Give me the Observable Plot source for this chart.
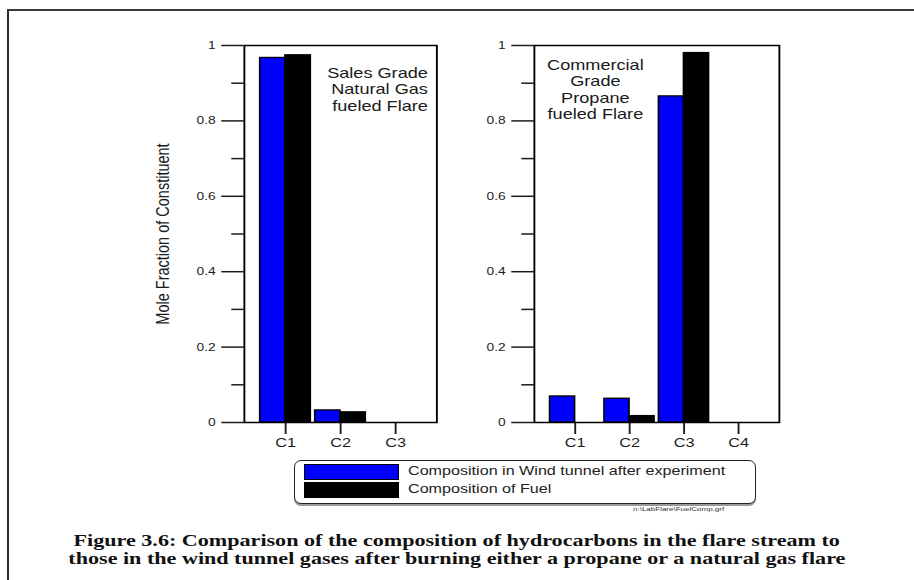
<!DOCTYPE html>
<html>
<head>
<meta charset="utf-8">
<script src="https://cdn.jsdelivr.net/npm/d3@7"></script>
<script src="https://cdn.jsdelivr.net/npm/@observablehq/plot@0.6"></script>
<style>
  body { margin: 0; background: #fff; }
  #page { position: relative; width: 914px; height: 580px; overflow: hidden; background: #fff;
          font-family: "Liberation Sans", Arial, sans-serif; color: #111; }
  .sheet { position: absolute; left: 7px; top: 9px; width: 920px; height: 590px;
           border-top: 2px solid #3a3a3a; border-left: 2px solid #2a2a2a; }
  .panel { position: absolute; top: 30px; }
  .panel svg { transform-origin: 0 0; transform: scaleX(1.25); overflow: visible; }
  .legend { position: absolute; left: 294px; top: 460px; width: 460px; height: 42px;
            border: 1.5px solid #222; border-radius: 7px; box-shadow: 0 2px 0 #9a9a9a; background: #fff; }
  .legend .item { position: absolute; left: 9px; height: 17px; }
  .legend .swatch { position: absolute; left: 0; top: 0; width: 93px; height: 14px; border: 1.2px solid #000; }
  .legend .label { position: absolute; left: 104px; top: -1px; font-size: 13px; line-height: 16px;
                   white-space: nowrap; transform-origin: 0 50%; transform: scaleX(1.24); color: #222; }
  .filetag { position: absolute; left: 633px; top: 506px; font-size: 5px; color: #333; white-space: nowrap;
             transform-origin: 0 0; transform: scaleX(1.6); }
  .caption { position: absolute; left: 0; top: 532px; width: 914px; text-align: center;
             font-family: "Liberation Serif", "Times New Roman", serif; font-weight: bold;
             font-size: 17px; line-height: 18px; color: #111; }
  .caption div { display: inline-block; transform: scaleX(1.30); transform-origin: 50% 50%; white-space: nowrap; }
</style>
</head>
<body>
<div id="page">
  <div class="sheet"></div>
  <div class="panel" id="panelNG" style="left:150px"></div>
  <div class="panel" id="panelPropane" style="left:460px"></div>
  <div class="legend" id="legend"></div>
  <div class="filetag">n:\LabFlare\FuelComp.grf</div>
  <div class="caption" id="caption"></div>
</div>
<script>
// Hydrocarbon constituents shown in each panel
const categoriesNG = ["C1", "C2", "C3"];
const categoriesPropane = ["C1", "C2", "C3", "C4"];

// Series and their fills
const series = ["Composition in Wind tunnel after experiment", "Composition of Fuel"];
const seriesColors = ["#0000ff", "#000000"];

// Mole fractions, natural gas fueled flare
const windTunnelNG = [0.967, 0.032, 0];
const fuelNG = [0.974, 0.027, 0];

// Mole fractions, propane fueled flare
const windTunnelPropane = [0.069, 0.063, 0.865, 0];
const fuelPropane = [0, 0.017, 0.98, 0];

// Axis ticks and labels
const yTicks = [0, 0.2, 0.4, 0.6, 0.8, 1];
const yMinorTicks = [0.1, 0.3, 0.5, 0.7, 0.9];
const yLabel = "Mole Fraction of Constituent";
const noteNG = "Sales Grade\nNatural Gas\nfueled Flare";
const notePropane = "Commercial\nGrade\nPropane\nfueled Flare";
const captionLines = [
  "Figure 3.6: Comparison of the composition of hydrocarbons in the flare stream to",
  "those in the wind tunnel gases after burning either a propane or a natural gas flare"
];

const PAD_INNER = 0.08, PAD_OUTER = 0.29;

function compositionPanel({cats, wind, fuel, width, marginLeft, note, noteOptions, showYLabel}) {
  const marginRight = 7;
  const rows = cats.flatMap((c, i) => [
    {cat: c, series: series[0], value: wind[i]},
    {cat: c, series: series[1], value: fuel[i]}
  ]);
  // half of the band width, so the two series sit side by side in each band
  const frameW = width - marginLeft - marginRight;
  const step = frameW / (cats.length - PAD_INNER + 2 * PAD_OUTER);
  const half = step * (1 - PAD_INNER) / 2;

  return Plot.plot({
    width, height: 427,
    marginLeft, marginRight, marginTop: 15, marginBottom: 35,
    style: {fontFamily: "'Liberation Sans', Arial, sans-serif", color: "#1c1c1c", background: "transparent"},
    x: {type: "band", domain: cats, paddingInner: PAD_INNER, paddingOuter: PAD_OUTER, round: false, axis: null},
    y: {domain: [0, 1], axis: null},
    color: {domain: series, range: seriesColors},
    marks: [
      Plot.barY(rows.filter(d => d.series === series[0] && d.value > 0),
        {x: "cat", y: "value", fill: "series", stroke: "#000", strokeWidth: 1.3, insetRight: half}),
      Plot.barY(rows.filter(d => d.series === series[1] && d.value > 0),
        {x: "cat", y: "value", fill: "series", stroke: "#000", strokeWidth: 1.3, insetLeft: half}),
      Plot.axisY({ticks: yTicks, tickSize: 18, tickPadding: 5, tickFormat: d => String(d),
        fontSize: 11, strokeWidth: 1.5, label: null}),
      Plot.axisY({ticks: yMinorTicks, tickSize: 10, tickFormat: () => "", strokeWidth: 1.5, label: null}),
      Plot.axisX({tickSize: 12, tickPadding: 3, fontSize: 13, strokeWidth: 1.5, label: null}),
      Plot.frame({stroke: "#000", strokeWidth: 1.5}),
      Plot.text([note], {text: d => d, fontSize: 14.5, lineHeight: 1.12, fill: "#1a1a1a", ...noteOptions}),
      showYLabel ? Plot.text([yLabel], {text: d => d, frameAnchor: "left", textAnchor: "middle",
        rotate: -90, dx: -64.6, fontSize: 14.5, fill: "#1a1a1a"}) : null
    ]
  });
}

document.getElementById("panelNG").append(compositionPanel({
  cats: categoriesNG, wind: windTunnelNG, fuel: fuelNG,
  width: 236, marginLeft: 75, note: noteNG, showYLabel: true,
  noteOptions: {frameAnchor: "top-right", textAnchor: "end", lineAnchor: "top", dx: -7.2, dy: 21}
}));

document.getElementById("panelPropane").append(compositionPanel({
  cats: categoriesPropane, wind: windTunnelPropane, fuel: fuelPropane,
  width: 262, marginLeft: 59, note: notePropane, showYLabel: false,
  noteOptions: {frameAnchor: "top-left", textAnchor: "middle", lineAnchor: "top", dx: 48.8, dy: 13}
}));

// Legend
const legend = document.getElementById("legend");
series.forEach((name, i) => {
  const item = document.createElement("div");
  item.className = "item";
  item.style.top = (3 + i * 18) + "px";
  const sw = document.createElement("div");
  sw.className = "swatch";
  sw.style.background = seriesColors[i];
  const lab = document.createElement("div");
  lab.className = "label";
  lab.textContent = name;
  item.append(sw, lab);
  legend.append(item);
});

// Caption
const cap = document.getElementById("caption");
captionLines.forEach(line => {
  const row = document.createElement("div");
  row.textContent = line;
  cap.append(row);
  cap.append(document.createElement("br"));
});
</script>
</body>
</html>
